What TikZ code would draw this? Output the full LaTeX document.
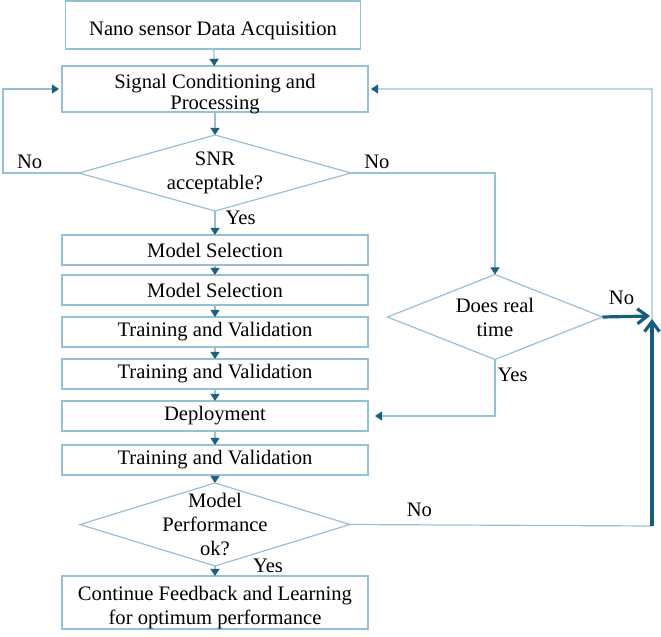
\documentclass[tikz,border=0pt]{standalone}
\usepackage{fontspec}
\setmainfont{Liberation Serif}
\usepackage{xcolor}
\usepackage{tikz}
\usetikzlibrary{shapes.geometric, arrows.meta, positioning, calc}

\definecolor{boxc}{RGB}{150,192,214}
\definecolor{headc}{RGB}{30,96,132}
\definecolor{thickc}{RGB}{26,92,128}

\begin{document}
\begin{tikzpicture}[
    x=0.5pt, y=-0.5pt,
    font=\fontsize{10.3}{12}\selectfont,
    % --- node styles ---
    box/.style={rectangle, draw=boxc, line width=0.6pt, minimum width=153pt,
        minimum height=15pt, inner sep=1pt, outer sep=0pt, align=center},
    dec/.style={diamond, draw=boxc, line width=0.6pt, inner sep=0pt, outer sep=0pt},
    % --- arrow / label styles ---
    arr/.style={draw=boxc, line width=0.6pt,
        -{Triangle[color=headc, length=3.6pt, width=4.6pt]}},
    thickarr/.style={draw=thickc, line width=1.6pt,
        -{Straight Barb[length=5pt, width=7.5pt]}},
    lbl/.style={inner sep=1pt}
]
\useasboundingbox (0,0) rectangle (661,637);

%%% ================= MAIN COLUMN =================
\node (acq) [box, minimum width=147.5pt, minimum height=24pt,
    text height=10pt, text depth=0pt] at (213,25)
    {Nano sensor Data Acquisition};
\node (sig) [box, minimum height=23pt, below=8.5pt of acq, xshift=1pt,
    label={[align=center, yshift=-2.5pt, font=\fontsize{10.3}{10.6}\selectfont]center:Signal Conditioning and\\Processing}] {};
\node (snr) [dec, minimum width=136pt, minimum height=38pt, below=11.5pt of sig,
    label={[align=center]center:SNR\\acceptable?}] {};
\node (ms1) [box, below=12pt of snr] {Model Selection};
\node (ms2) [box, below=5pt of ms1] {Model Selection};
\node (tv1) [box, below=6pt of ms2] {Training and Validation};
\node (tv2) [box, below=6pt of tv1] {Training and Validation};
\node (dep) [box, below=6pt of tv2] {Deployment};
\node (tv3) [box, below=7pt of dep] {Training and Validation};
\node (perf) [dec, minimum width=135pt, minimum height=41.5pt, below=4pt of tv3,
    label={[align=center]center:Model\\Performance\\ok?}] {};
\node (fin) [box, minimum height=26.5pt, below=5pt of perf,
    label={[align=center, yshift=-2.3pt]center:Continue Feedback and Learning\\for optimum performance}] {};

%%% ================= SIDE DECISION =================
\node (rt) [dec, minimum width=107.5pt, minimum height=42.5pt,
    label={[align=center]center:Does real\\time}] at (495,317) {};

%% corner points of the return loops
\coordinate (lft) at (3,173);
\coordinate (rcorner) at (650,316);
\coordinate (rtop) at (652,89);
\coordinate (rbot) at (652,526);
\coordinate (rmid) at (652,319);

%%% ================= ARROWS =================
\draw [arr] (acq) -- (sig);
\draw [arr] (sig) -- (snr);
\draw [arr] (snr) -- node[lbl, right, pos=0.3, xshift=4pt] {Yes} (ms1);
\draw [arr] (ms1) -- (ms2);
\draw [arr] (ms2) -- (tv1);
\draw [arr] (tv1) -- (tv2);
\draw [arr] (tv2) -- (dep);
\draw [arr] (dep) -- (tv3);
\draw [arr] (tv3) -- (perf);
\draw [arr] (perf) -- (fin);
\node (yes2) [lbl] at (268,566) {Yes};

%% SNR loops
\draw [arr, shorten >=1.5pt] (snr.west) -- node[lbl, above, pos=0.65, yshift=1pt] {No} (lft) |- (sig.west);
\draw [arr] (snr.east) -| node[lbl, above, pos=0.09, yshift=1pt] {No} (rt.north);

%% real time decision
\draw [arr, shorten >=3.5pt] (rt.south) |- node[lbl, right, pos=0.14] {Yes} (dep.east);
\draw [thickarr] (rt.east) -- node[lbl, above, pos=0.4, yshift=4pt] {No} (rcorner);

%% performance feedback
\draw [arr, shorten >=1.5pt] (perf.east) -- node[lbl, above, pos=0.23, yshift=3pt] {No} (rbot)
    -- (rtop) -- (sig.east);
\draw [thickarr] (rbot) -- (rmid);

\end{tikzpicture}
\end{document}
